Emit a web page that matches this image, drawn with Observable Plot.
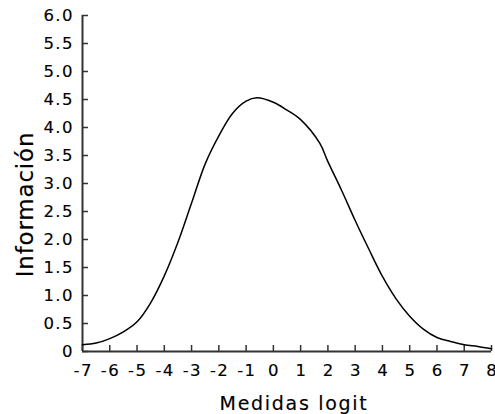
<!DOCTYPE html>
<html>
<head>
<meta charset="utf-8">
<script src="https://cdn.jsdelivr.net/npm/d3@7"></script>
<script src="https://cdn.jsdelivr.net/npm/@observablehq/plot@0.6"></script>
<style>
  html, body { margin: 0; padding: 0; background: #fff; }
  .xlab { letter-spacing: 1.7px; }
  .ylab { letter-spacing: 0.8px; }
  .tl, .tl text { font-size: 16.5px !important; letter-spacing: 1.4px; }
  svg text { stroke: #000; stroke-width: 0.15px; }
</style>
</head>
<body>
<div id="chart"></div>
<script>
const logit = [-7,-6.5,-6,-5.5,-5,-4.5,-4,-3.5,-3,-2.5,-2,-1.5,-1,-0.6,0,0.5,1,1.7,2,2.5,3,3.5,4,4.5,5,5.5,6,6.5,7,7.5,8];
const info  = [0.12,0.15,0.23,0.35,0.53,0.87,1.35,1.95,2.65,3.35,3.85,4.25,4.47,4.53,4.45,4.31,4.14,3.72,3.39,2.88,2.34,1.83,1.34,0.94,0.63,0.40,0.25,0.18,0.12,0.09,0.05];
const xTicks = [-7,-6,-5,-4,-3,-2,-1,0,1,2,3,4,5,6,7,8];
const yTicks = [0,0.5,1,1.5,2,2.5,3,3.5,4,4.5,5,5.5,6];
const xLabel = "Medidas logit";
const yLabel = "Información";

const data = logit.map((x, i) => ({x, y: info[i]}));
const W = 495, H = 414, mL = 82, mR = 4, mT = 15, mB = 63;
const frameH = H - mT - mB, frameW = W - mL - mR;
const axisColor = "#333";

const chart = Plot.plot({
  width: W, height: H,
  marginLeft: mL, marginRight: mR, marginTop: mT, marginBottom: mB,
  style: {fontFamily: "DejaVu Sans", fontSize: "16px", color: "#000", background: "#fff", overflow: "visible"},
  x: {domain: [-7, 8]},
  y: {domain: [0, 6]},
  marks: [
    Plot.axisX(xTicks, {tickSize: 0, tickPadding: 13, fontSize: 16.5, label: null, tickFormat: d => String(d), dx: 0.7, className: "tl"}),
    Plot.axisY(yTicks, {tickSize: 0, tickPadding: 8.6, fontSize: 16.5, label: null, tickFormat: d => d === 0 ? "0" : d.toFixed(1), className: "tl"}),
    Plot.tickX(xTicks, {x: d => d, insetTop: frameH - 6, stroke: axisColor, strokeWidth: 1.5}),
    Plot.tickY(yTicks, {y: d => d, insetRight: frameW - 6, stroke: axisColor, strokeWidth: 1.5}),
    Plot.ruleY([0], {stroke: axisColor, strokeWidth: 2}),
    Plot.ruleX([-7], {stroke: axisColor, strokeWidth: 2}),
    Plot.line(data, {x: "x", y: "y", curve: "catmull-rom", stroke: "#000", strokeWidth: 1.5}),
    Plot.text([xLabel], {frameAnchor: "bottom", text: d => d, dx: 7, dy: 52, textAnchor: "middle", lineAnchor: "middle", fontSize: 19, fill: "#000", className: "xlab"}),
    Plot.text([yLabel], {frameAnchor: "left", text: d => d, dx: -57, dy: 21, rotate: -90, textAnchor: "middle", lineAnchor: "middle", fontSize: 23, fill: "#000", className: "ylab"})
  ]
});
document.getElementById("chart").appendChild(chart);
</script>
</body>
</html>
